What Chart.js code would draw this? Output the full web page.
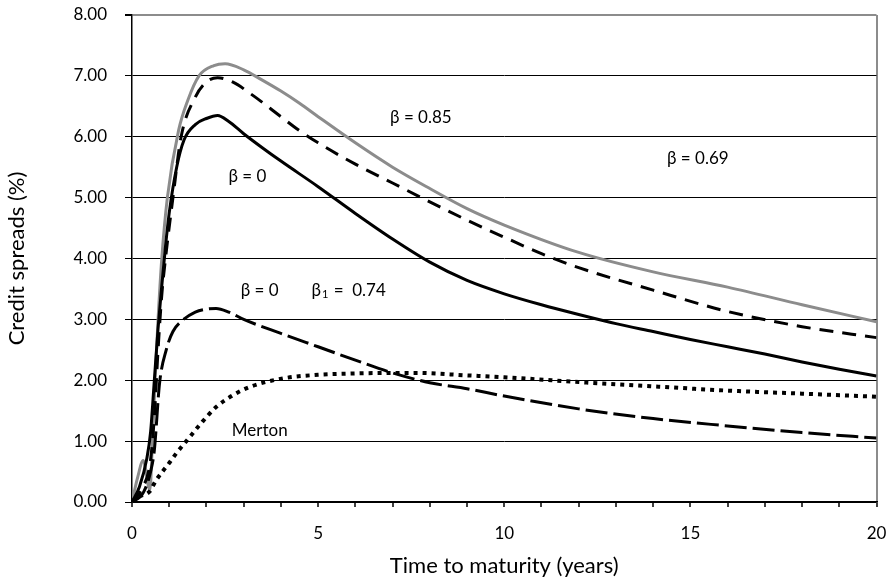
<!DOCTYPE html>
<html>
<head>
<meta charset="utf-8">
<script src="https://cdn.jsdelivr.net/npm/chart.js@4"></script>
<style>
body { margin: 0; background: #fff; }
</style>
</head>
<body>
<canvas id="chart" width="888" height="588"></canvas>
<script>
// time to maturity (years) and credit spreads (%)
const tGray = [0, 0.15, 0.3, 0.48, 0.55, 0.62, 0.7, 0.8, 0.95, 1.25, 1.5, 1.8, 2.2, 2.5, 3, 3.5, 4, 4.5, 5, 6, 7, 8, 9, 10, 12, 14, 16, 18, 20]
const vGray = [0, 0.4, 0.68, 0.2, 1.0, 2.0, 3.0, 4.0, 5.0, 6.1, 6.6, 7.0, 7.17, 7.2, 7.1, 6.93, 6.75, 6.55, 6.33, 5.9, 5.5, 5.15, 4.82, 4.55, 4.1, 3.78, 3.53, 3.24, 2.96]

const tDash = [0, 0.25, 0.5, 0.6, 0.7, 0.8, 0.9, 1.1, 1.32, 1.7, 2, 2.3, 2.7, 3.2, 4, 4.5, 5, 6, 7, 8, 9, 10, 11, 12, 14, 16, 18, 20]
const vDash = [0, 0.2, 0.7, 1.4, 2.5, 3.4, 4.0, 5.0, 6.0, 6.65, 6.9, 6.97, 6.9, 6.7, 6.33, 6.1, 5.9, 5.55, 5.24, 4.93, 4.63, 4.35, 4.08, 3.85, 3.48, 3.13, 2.88, 2.7]

const tSolid = [0, 0.2, 0.4, 0.5, 0.6, 0.7, 0.8, 0.9, 1, 1.2, 1.4, 1.7, 2, 2.3, 2.6, 3, 3.5, 4, 5, 6, 7, 8, 9, 10, 11, 12, 13, 14, 15, 16, 17, 18, 19, 20]
const vSolid = [0, 0.25, 0.72, 1.15, 2.0, 2.85, 3.55, 4.2, 4.75, 5.5, 5.95, 6.2, 6.3, 6.35, 6.25, 6.05, 5.82, 5.6, 5.18, 4.74, 4.32, 3.94, 3.64, 3.42, 3.24, 3.08, 2.93, 2.8, 2.67, 2.55, 2.43, 2.3, 2.18, 2.07]

const tLong = [0, 0.3, 0.5, 0.6, 0.74, 0.92, 1.1, 1.37, 1.7, 2, 2.26, 2.6, 3, 4, 5, 6, 7, 8, 9, 10, 12, 14, 16, 18, 20]
const vLong = [0, 0.15, 0.5, 0.85, 1.95, 2.5, 2.8, 2.99, 3.12, 3.17, 3.18, 3.12, 3.0, 2.77, 2.55, 2.33, 2.12, 1.96, 1.86, 1.74, 1.53, 1.37, 1.25, 1.14, 1.05]

const tMerton = [0, 0.2, 0.47, 0.65, 1, 1.19, 1.46, 1.81, 2.26, 2.7, 3.16, 4.05, 5, 5.85, 7, 7.64, 9, 10, 12, 14, 16, 18, 20]
const vMerton = [0, 0.09, 0.17, 0.36, 0.64, 0.8, 1.0, 1.26, 1.56, 1.75, 1.89, 2.03, 2.09, 2.11, 2.12, 2.12, 2.08, 2.05, 1.97, 1.9, 1.83, 1.78, 1.73]

const yTicks = [0, 1, 2, 3, 4, 5, 6, 7, 8]

// text labels inside the plot, placed in data coordinates
const notes = [
	{text: "β = 0.85", x: 7.76, y: 6.31},
	{text: "β = 0.69", x: 15.2, y: 5.65},
	{text: "β = 0", x: 3.1, y: 5.34},
	{text: "β = 0", x: 3.43, y: 3.48},
	{text: "β1", x: 5.82, y: 3.48},
	{text: "Merton", x: 3.43, y: 1.18}
]

const gray = "#8c8c8c"
const font = "Lato"
const noteSize = 17

function pts(t, v){
	return t.map((x, i) => ({x: x, y: v[i]}))
}

const notePlugin = {
	id: "notes",
	afterDatasetsDraw(chart){
		const ctx = chart.ctx
		const xs = chart.scales.x
		const ys = chart.scales.y
		const big = noteSize + "px " + font
		const small = "11px " + font
		ctx.save()
		ctx.fillStyle = "#000"
		ctx.textBaseline = "middle"
		notes.forEach(n => {
			let px = xs.getPixelForValue(n.x)
			let py = ys.getPixelForValue(n.y)
			ctx.font = big
			if(n.text == "β1"){
				// beta with subscript 1
				let rest = " =  0.74"
				let w1 = ctx.measureText("β").width
				ctx.font = small
				let w2 = ctx.measureText("1").width + 2
				ctx.font = big
				let w3 = ctx.measureText(rest).width
				let x0 = px - (w1 + w2 + w3) / 2
				ctx.textAlign = "left"
				ctx.fillText("β", x0, py)
				ctx.font = small
				ctx.fillText("1", x0 + w1 + 1, py + 4)
				ctx.font = big
				ctx.fillText(rest, x0 + w1 + w2, py)
			}else{
				ctx.textAlign = "center"
				ctx.fillText(n.text, px, py)
			}
		})
		ctx.restore()
	}
}

let chart = new Chart(document.querySelector("#chart").getContext("2d"), {
	type: "line",
	data: {
		datasets: [
			{label: "Merton", data: pts(tMerton, vMerton), borderColor: "#000", borderWidth: 4, borderDash: [4, 5]},
			{label: "beta0 beta1", data: pts(tLong, vLong), borderColor: "#000", borderWidth: 3, borderDash: [22, 6]},
			{label: "beta0", data: pts(tSolid, vSolid), borderColor: "#000", borderWidth: 3},
			{label: "beta0.69", data: pts(tDash, vDash), borderColor: "#000", borderWidth: 3, borderDash: [14, 9]},
			{label: "beta0.85", data: pts(tGray, vGray), borderColor: gray, borderWidth: 3}
		]
	},
	options: {
		responsive: false,
		animation: false,
		layout: {padding: {left: 0, right: 11.5, top: 15, bottom: 0}},
		elements: {
			point: {radius: 0},
			line: {cubicInterpolationMode: "monotone", fill: false}
		},
		plugins: {legend: {display: false}, tooltip: {enabled: false}},
		scales: {
			x: {
				type: "linear",
				min: 0,
				max: 20,
				ticks: {
					stepSize: 1,
					autoSkip: false,
					maxRotation: 0,
					padding: 16,
					color: "#000",
					font: {family: font, size: 17},
					callback: v => v % 5 == 0 ? v : ""
				},
				grid: {
					color: c => c.tick && c.tick.value == 20 ? gray : "rgba(0,0,0,0)",
					lineWidth: 2,
					tickColor: "#000",
					tickWidth: 1.5,
					tickLength: 5
				},
				border: {color: "#000", width: 1.5},
				title: {
					display: true,
					text: "Time to maturity (years)",
					color: "#000",
					font: {family: font, size: 22},
					padding: {top: 0, bottom: 9}
				},
				afterFit: s => { s.height = 86; s.paddingLeft = 0; s.paddingRight = 0 }
			},
			y: {
				min: 0,
				max: 8,
				afterBuildTicks: s => { s.ticks = yTicks.map(v => ({value: v})) },
				ticks: {
					padding: 18,
					color: "#000",
					font: {family: font, size: 17},
					callback: v => v.toFixed(2)
				},
				grid: {
					color: c => c.tick && c.tick.value == 8 ? gray : "#000",
					lineWidth: c => c.tick && c.tick.value == 8 ? 2 : 1,
					tickColor: "#000",
					tickLength: 7
				},
				border: {color: "#000", width: 1.5},
				title: {
					display: true,
					text: "Credit spreads (%)",
					color: "#000",
					font: {family: font, size: 22},
					padding: {top: 4, bottom: 0}
				},
				afterFit: s => { s.width = 132; s.paddingTop = 0; s.paddingBottom = 0 }
			}
		}
	},
	plugins: [notePlugin]
})
</script>
</body>
</html>
